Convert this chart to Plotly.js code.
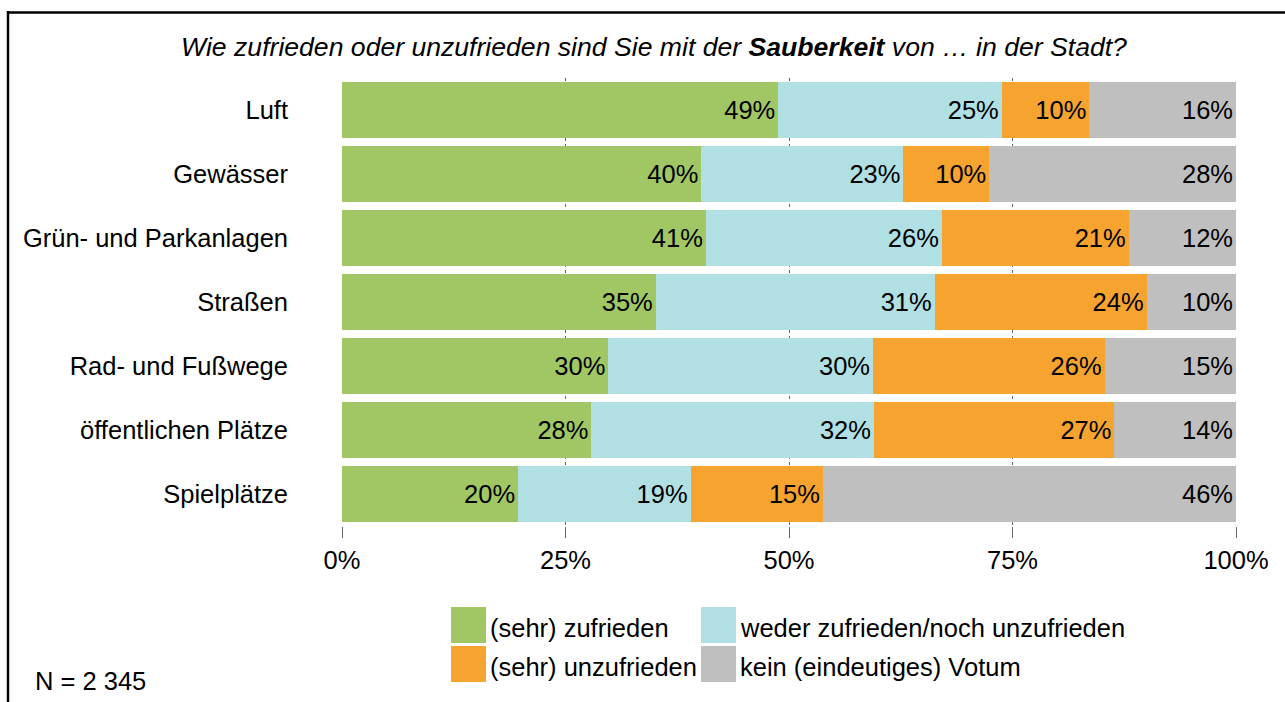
<!DOCTYPE html>
<html>
<head>
<meta charset="utf-8">
<script src="https://cdn.plot.ly/plotly-3.0.1.min.js"></script>
<style>html,body{margin:0;padding:0;background:#fff;}</style>
</head>
<body>
<div id="chart" style="width:1285px;height:702px;"></div>
<script>
const categories = ["Luft", "Gewässer", "Grün- und Parkanlagen", "Straßen", "Rad- und Fußwege", "öffentlichen Plätze", "Spielplätze"];
const seriesNames = ["(sehr) zufrieden", "weder zufrieden/noch unzufrieden", "(sehr) unzufrieden", "kein (eindeutiges) Votum"];
const zufrieden   = [48.8, 40.2, 40.7, 35.1, 29.8, 27.9, 19.7];
const weder       = [25.0, 22.6, 26.4, 31.2, 29.6, 31.6, 19.3];
const unzufrieden = [9.8, 9.6, 20.9, 23.7, 25.9, 26.9, 14.8];
const keinVotum   = [16.4, 27.6, 12.0, 10.0, 14.7, 13.6, 46.2];
const tickValues = [0, 25, 50, 75, 100];
const tickLabels = ["0%", "25%", "50%", "75%", "100%"];
const sampleNote = "N = 2 345";
const titleText = "Wie zufrieden oder unzufrieden sind Sie mit der <b>Sauberkeit</b> von … in der Stadt?";

const colors = ["#A0C764", "#B0DFE4", "#F6A42F", "#BFBFBF"];
const seriesValues = [zufrieden, weder, unzufrieden, keinVotum];
const FONT = "Arial, 'Liberation Sans', sans-serif";
const FS = 25.5;

// pixel -> paper helpers (plot area 342..1236 x 78..526)
const L = 342, R = 1236, T = 78, B = 526;
const px = v => (v - L) / (R - L);
const py = v => (B - v) / (B - T);

const traces = seriesValues.map((vals, i) => ({
  type: "bar",
  orientation: "h",
  name: seriesNames[i],
  y: categories,
  x: vals,
  marker: {color: colors[i], line: {width: 0}},
  texttemplate: "%{x:.0f}%",
  textposition: "inside",
  insidetextanchor: "end",
  textangle: 0,
  constraintext: "none",
  textfont: {family: FONT, size: FS, color: "#000"},
  hoverinfo: "none",
  showlegend: false
}));

const shapes = [
  // frame
  {type: "line", xref: "paper", yref: "paper", x0: px(8), x1: px(8), y0: py(11), y1: py(710), line: {color: "#000", width: 2.5}},
  {type: "line", xref: "paper", yref: "paper", x0: px(7), x1: px(1300), y0: py(12.5), y1: py(12.5), line: {color: "#000", width: 2.5}}
];
const annotations = [
  {text: sampleNote, xref: "paper", yref: "paper", x: px(33), y: py(681), xanchor: "left", yanchor: "middle", showarrow: false, font: {family: FONT, size: FS, color: "#000"}}
];
// legend (2 columns x 2 rows)
const legPos = [[451, 607], [701, 607], [451, 646], [701, 646]];
seriesNames.forEach((nm, i) => {
  const [lx, ly] = legPos[i];
  shapes.push({type: "rect", xref: "paper", yref: "paper", x0: px(lx), x1: px(lx + 35), y0: py(ly), y1: py(ly + 36), fillcolor: colors[i], line: {width: 0}});
  annotations.push({text: nm, xref: "paper", yref: "paper", x: px(lx + 37), y: py(ly + 21), xanchor: "left", yanchor: "middle", showarrow: false, font: {family: FONT, size: FS, color: "#000"}});
});

const layout = {
  width: 1285, height: 702,
  margin: {l: L, r: 1285 - R, t: T, b: 702 - B, pad: 0},
  paper_bgcolor: "#fff", plot_bgcolor: "#fff",
  barmode: "stack",
  bargap: 0.11,
  showlegend: false,
  title: {text: titleText, xref: "paper", x: px(654), xanchor: "center", yref: "container", y: 1 - 47 / 702, yanchor: "middle",
          font: {family: FONT, size: 26.6, color: "#000", style: "italic"}},
  xaxis: {
    range: [0, 100], tickvals: tickValues, ticktext: tickLabels,
    showgrid: true, gridcolor: "#666", griddash: "dot", gridwidth: 1,
    zeroline: false, showline: false,
    ticks: "outside", ticklen: 11, tickcolor: "#666", tickwidth: 1,
    tickfont: {family: FONT, size: FS, color: "#000"},
    fixedrange: true
  },
  yaxis: {
    autorange: "reversed", type: "category",
    showgrid: false, zeroline: false, showline: false,
    ticks: "", ticklabelstandoff: 53,
    tickfont: {family: FONT, size: FS, color: "#000"},
    fixedrange: true
  },
  shapes: shapes,
  annotations: annotations
};

Plotly.newPlot("chart", traces, layout, {displayModeBar: false, staticPlot: true});
</script>
</body>
</html>
